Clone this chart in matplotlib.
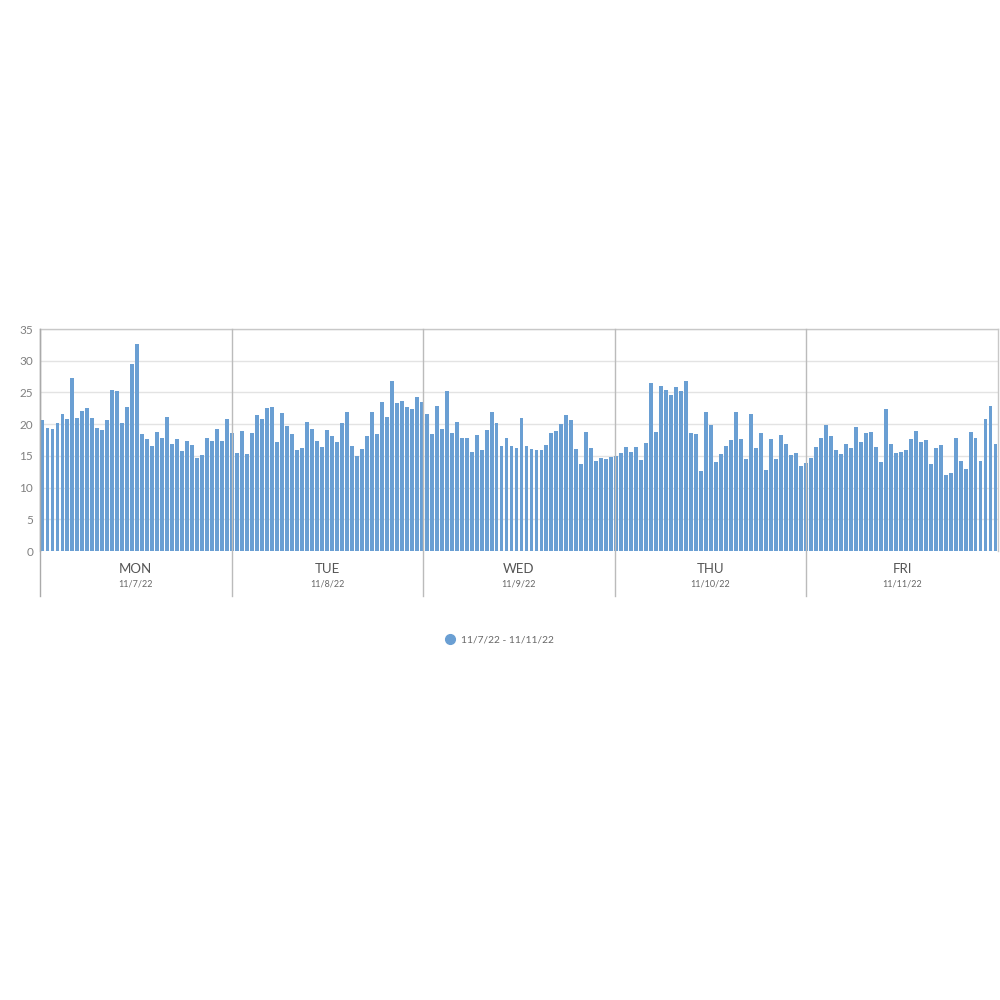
import matplotlib
matplotlib.use("Agg")
import matplotlib.pyplot as plt
import matplotlib.transforms as mtransforms
from matplotlib.lines import Line2D
import numpy as np

plt.rcParams['font.family'] = ['Lato', 'DejaVu Sans']

days = ["MON", "TUE", "WED", "THU", "FRI"]
dates = ["11/7/22", "11/8/22", "11/9/22", "11/10/22", "11/11/22"]
legend_label = "11/7/22 - 11/11/22"

mon = [20.66, 19.35, 19.19, 20.14, 21.67, 20.77, 27.25, 21.03, 22.09, 22.56,
       20.93, 19.4, 19.03, 20.72, 25.36, 25.25, 20.14, 22.72, 29.47, 32.68,
       18.45, 17.66, 16.55, 18.77, 17.87, 21.09, 16.87, 17.61, 15.71, 17.4,
       16.71, 14.65, 15.08, 17.76, 17.29, 19.19, 17.34, 20.77]
tue = [18.56, 15.5, 18.92, 15.29, 18.56, 21.51, 20.82, 22.51, 22.67, 17.19,
       21.77, 19.72, 18.4, 15.87, 16.29, 20.35, 19.24, 17.29, 16.34, 19.03,
       18.13, 17.19, 20.14, 21.88, 16.61, 14.97, 16.03, 18.13, 21.93, 18.5,
       23.46, 21.19, 26.83, 23.41, 23.62, 22.67, 22.35, 24.3, 23.51]
wed = [21.56, 18.45, 22.88, 19.24, 25.25, 18.66, 20.4, 17.82, 17.82, 15.6,
       18.29, 15.92, 19.14, 21.98, 20.24, 16.61, 17.87, 16.5, 16.24, 20.93,
       16.5, 16.13, 15.87, 15.87, 16.76, 18.56, 18.87, 20.08, 21.51, 20.66,
       16.03, 13.71, 18.71, 16.18, 14.23, 14.71, 14.44, 14.87, 14.97]
thu = [15.39, 16.39, 15.6, 16.45, 14.29, 16.97, 26.41, 18.71, 25.99, 25.41,
       24.57, 25.83, 25.25, 26.73, 18.61, 18.5, 12.6, 21.88, 19.82, 13.97,
       15.23, 16.5, 17.5, 21.93, 17.66, 14.5, 21.56, 16.29, 18.61, 12.7,
       17.61, 14.5, 18.29, 16.87, 15.08, 15.5, 13.44, 13.81]
fri = [14.71, 16.34, 17.82, 19.87, 18.08, 15.97, 15.29, 16.87, 16.24, 19.56,
       17.19, 18.56, 18.82, 16.34, 14.08, 22.35, 16.82, 15.45, 15.55, 15.97,
       17.61, 18.87, 17.13, 17.5, 13.71, 16.24, 16.71, 11.97, 12.34, 17.76,
       14.23, 12.97, 18.71, 17.82, 14.18, 20.82, 22.93, 16.87]

values = mon + tue + wed + thu + fri
n = len(values)
x = np.arange(n)

bar_color = "#6a9fd3"
grid_color = "#e3e3e3"
frame_color = "#c8c8c8"
text_color = "#555555"

fig = plt.figure(figsize=(10, 10), dpi=100)
ax = fig.add_axes([0.04, 0.449, 0.958, 0.222])

ax.bar(x, values, width=0.78, color=bar_color, edgecolor='none', zorder=3)
ax.set_xlim(-0.5, n - 0.5)
ax.set_ylim(0, 35)
ax.set_yticks(range(0, 36, 5))
ax.yaxis.grid(True, color=grid_color, linewidth=1, zorder=0)
ax.tick_params(axis='y', length=0, pad=5, labelsize=8.5, labelcolor="#808080")
ax.set_xticks([])

for side in ['top', 'right']:
    ax.spines[side].set_color(frame_color)
    ax.spines[side].set_linewidth(1)
ax.spines['left'].set_color("#aaaaaa")
ax.spines['left'].set_linewidth(1)
ax.spines['bottom'].set_visible(False)

per_day = n / len(days)
trans = mtransforms.blended_transform_factory(ax.transData, ax.transAxes)
bounds = [-0.5 + k * per_day for k in range(len(days) + 1)]
for k, b in enumerate(bounds[:-1]):
    ax.plot([b, b], [1, -0.203], transform=trans, color="#bbbbbb" if k else "#aaaaaa",
            linewidth=1, clip_on=False, zorder=4 if k else 5)
for k, (d, dt) in enumerate(zip(days, dates)):
    cx = bounds[k] + per_day / 2
    ax.text(cx, -0.081, d, transform=trans, ha='center', va='center',
            fontsize=9.5, color=text_color)
    ax.text(cx, -0.149, dt, transform=trans, ha='center', va='center',
            fontsize=6.5, color="#666666")

handle = Line2D([], [], marker='o', linestyle='none', markersize=7,
                markerfacecolor=bar_color, markeredgecolor=bar_color)
fig.legend([handle], [legend_label], loc='center', bbox_to_anchor=(0.497, 0.36),
           frameon=False, fontsize=7.3, labelcolor="#666666", handletextpad=0.1)

fig.savefig("out.png", dpi=100, facecolor='white')
